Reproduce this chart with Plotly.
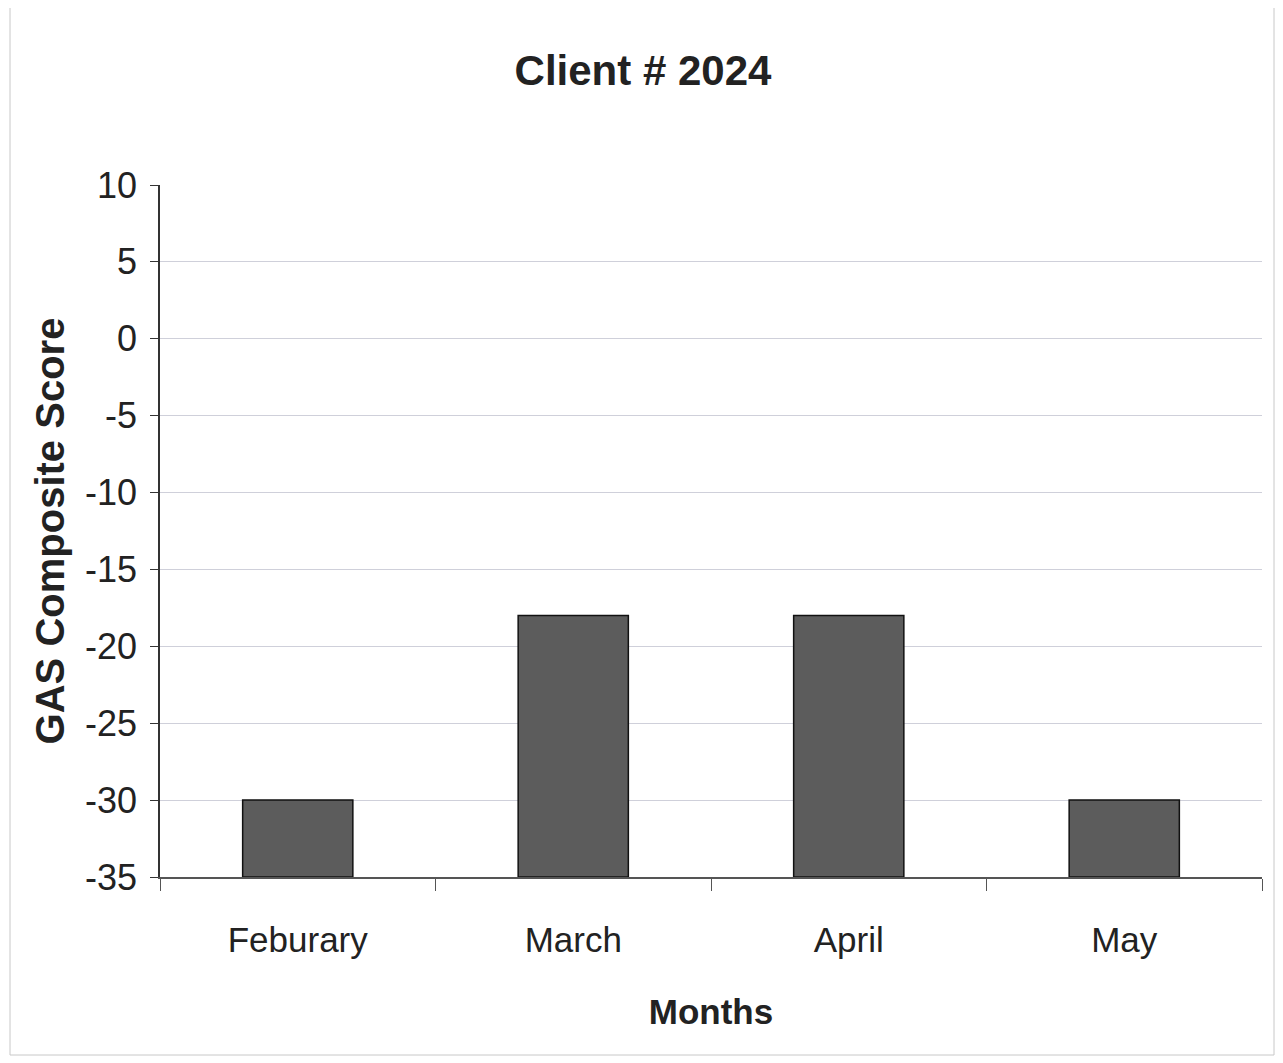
import plotly.graph_objects as go

months = ["Feburary", "March", "April", "May"]
scores = [-30, -18, -18, -30]
axis_floor = -35
y_ticks = [10, 5, 0, -5, -10, -15, -20, -25, -30, -35]
y_tick_text = ["10", "5", "0", "-5", "-10", "-15", "-20", "-25", "-30", "-35"]

fig = go.Figure()
fig.add_trace(go.Bar(
    x=months,
    y=[s - axis_floor for s in scores],
    base=axis_floor,
    marker=dict(color="#5c5c5c", line=dict(color="#111111", width=1.5)),
    width=0.4,
    showlegend=False,
))

font_family = "Liberation Sans, Arial, sans-serif"

fig.update_layout(
    width=1283, height=1063,
    paper_bgcolor="white", plot_bgcolor="white",
    margin=dict(l=152, r=29, t=177, b=194),
    title=dict(text="<b>Client # 2024</b>", x=(643 - 8) / 1283, xanchor="center",
               y=1 - 62 / 1063, yanchor="middle",
               font=dict(family=font_family, size=42, color="#222222")),
    font=dict(family=font_family, color="#222222"),
)

fig.update_xaxes(
    showline=True, linecolor="#555555", linewidth=1.5,
    ticks="outside", tickson="boundaries", ticklen=12, tickcolor="#555555",
    tickfont=dict(size=35, color="#222222"),
    ticklabelstandoff=31,
    title=dict(text="<b>Months</b>", font=dict(size=35, color="#222222"), standoff=42),
    showgrid=False,
)
fig.update_yaxes(
    range=[axis_floor, 10], tickvals=y_ticks, ticktext=y_tick_text,
    showline=True, linecolor="#333333", linewidth=1.5,
    ticks="outside", ticklen=8, tickcolor="#333333",
    tickfont=dict(size=36, color="#222222"),
    ticklabelstandoff=6,
    showgrid=True, gridcolor="#cfd0da", gridwidth=1,
    zeroline=False,
    title=dict(text="<b>GAS Composite Score</b>", font=dict(size=40, color="#222222"), standoff=8),
)

fig.add_shape(type="rect", xref="paper", yref="paper",
              x0=-150 / 1102, x1=1 + 12 / 1102, y0=-178 / 692, y1=1 + 180 / 692,
              line=dict(color="#c8c8c8", width=1))

fig.write_html("out.html")
